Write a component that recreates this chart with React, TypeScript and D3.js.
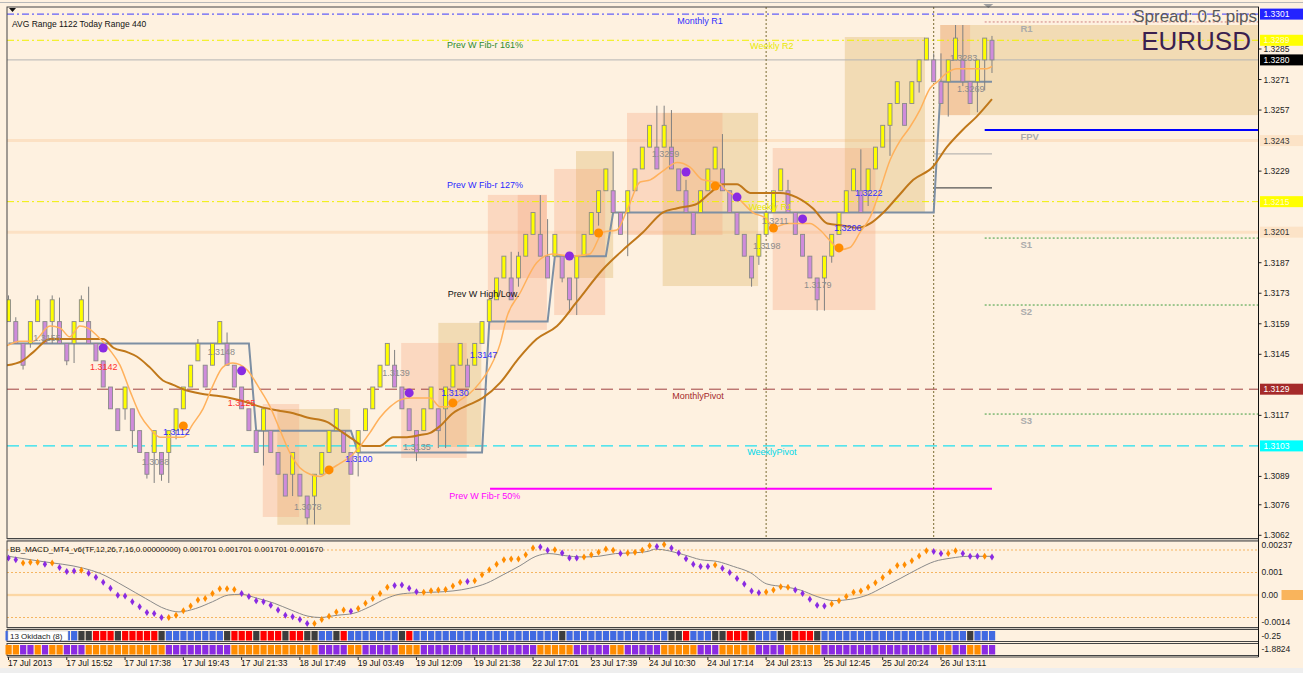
import React from "react";
import * as d3 from "d3";

// ---------- DATA ----------
const opens = [
  1.3160,1.3160,1.3150,1.3150,1.3160,1.3160,1.3160,1.3160,1.3150,1.3150,
  1.3160,1.3160,1.3150,1.3142,1.3130,1.3120,1.3120,1.3120,1.3110,1.3100,
  1.3100,1.3100,1.3100,1.3110,1.3120,1.3130,1.3142,1.3140,1.3140,1.3150,
  1.3150,1.3140,1.3130,1.3120,1.3110,1.3110,1.3110,1.3100,1.3090,1.3090,
  1.3090,1.3080,1.3080,1.3090,1.3100,1.3110,1.3110,1.3100,1.3100,1.3110,
  1.3120,1.3130,1.3140,1.3140,1.3130,1.3120,1.3110,1.3110,1.3120,1.3120,
  1.3120,1.3130,1.3140,1.3140,1.3140,1.3150,1.3160,1.3170,1.3180,1.3180,
  1.3180,1.3190,1.3200,1.3200,1.3190,1.3190,1.3190,1.3180,1.3180,1.3190,
  1.3200,1.3210,1.3220,1.3220,1.3210,1.3210,1.3220,1.3230,1.3240,1.3240,
  1.3240,1.3240,1.3230,1.3220,1.3210,1.3210,1.3220,1.3230,1.3230,1.3220,
  1.3210,1.3200,1.3190,1.3190,1.3200,1.3210,1.3220,1.3220,1.3210,1.3200,
  1.3190,1.3180,1.3180,1.3190,1.3200,1.3210,1.3220,1.3220,1.3220,1.3230,
  1.3240,1.3250,1.3260,1.3260,1.3260,1.3270,1.3280,1.3280,1.3270,1.3270,
  1.3280,1.3280,1.3270,1.3270,1.3280,1.3289,
];
const closes = [
  1.3170,1.3150,1.3140,1.3160,1.3170,1.3150,1.3170,1.3150,1.3142,1.3160,
  1.3170,1.3150,1.3142,1.3130,1.3120,1.3110,1.3130,1.3110,1.3100,1.3090,
  1.3110,1.3090,1.3110,1.3120,1.3130,1.3140,1.3150,1.3130,1.3150,1.3160,
  1.3140,1.3130,1.3120,1.3110,1.3100,1.3120,1.3100,1.3090,1.3080,1.3100,
  1.3080,1.3070,1.3090,1.3100,1.3110,1.3120,1.3100,1.3090,1.3110,1.3120,
  1.3130,1.3140,1.3150,1.3130,1.3120,1.3110,1.3100,1.3120,1.3130,1.3110,
  1.3130,1.3140,1.3150,1.3130,1.3150,1.3160,1.3170,1.3180,1.3190,1.3170,
  1.3190,1.3200,1.3210,1.3190,1.3180,1.3200,1.3180,1.3170,1.3190,1.3200,
  1.3210,1.3220,1.3230,1.3210,1.3200,1.3220,1.3230,1.3240,1.3250,1.3230,
  1.3250,1.3230,1.3220,1.3210,1.3200,1.3220,1.3230,1.3240,1.3220,1.3210,
  1.3200,1.3190,1.3180,1.3200,1.3210,1.3220,1.3230,1.3210,1.3200,1.3190,
  1.3180,1.3170,1.3190,1.3200,1.3210,1.3220,1.3230,1.3210,1.3230,1.3240,
  1.3250,1.3260,1.3270,1.3250,1.3270,1.3280,1.3290,1.3270,1.3260,1.3280,
  1.3290,1.3270,1.3260,1.3280,1.3290,1.3280,
];
const highs = [
  1.3172,1.3162,1.3150,1.3160,1.3172,1.3160,1.3172,1.3171,1.3150,1.3160,
  1.3172,1.3176,1.3150,1.3142,1.3130,1.3120,1.3130,1.3120,1.3110,1.3100,
  1.3110,1.3100,1.3110,1.3120,1.3130,1.3140,1.3152,1.3140,1.3150,1.3160,
  1.3155,1.3140,1.3130,1.3120,1.3110,1.3120,1.3110,1.3100,1.3090,1.3100,
  1.3090,1.3080,1.3090,1.3100,1.3110,1.3120,1.3110,1.3100,1.3110,1.3120,
  1.3130,1.3140,1.3150,1.3147,1.3130,1.3120,1.3110,1.3120,1.3130,1.3120,
  1.3130,1.3140,1.3150,1.3143,1.3150,1.3160,1.3170,1.3180,1.3190,1.3192,
  1.3192,1.3200,1.3210,1.3218,1.3207,1.3200,1.3190,1.3180,1.3190,1.3200,
  1.3210,1.3220,1.3230,1.3238,1.3210,1.3220,1.3230,1.3240,1.3250,1.3259,
  1.3259,1.3257,1.3230,1.3225,1.3210,1.3220,1.3230,1.3240,1.3246,1.3220,
  1.3210,1.3200,1.3190,1.3200,1.3211,1.3220,1.3230,1.3225,1.3210,1.3200,
  1.3190,1.3180,1.3190,1.3200,1.3210,1.3220,1.3230,1.3239,1.3230,1.3240,
  1.3250,1.3260,1.3270,1.3260,1.3270,1.3280,1.3290,1.3283,1.3283,1.3280,
  1.3296,1.3296,1.3270,1.3280,1.3290,1.3291,
];
const lows = [
  1.3160,1.3150,1.3138,1.3148,1.3160,1.3150,1.3150,1.3150,1.3140,1.3141,
  1.3160,1.3150,1.3142,1.3130,1.3120,1.3110,1.3115,1.3102,1.3100,1.3088,
  1.3086,1.3087,1.3086,1.3106,1.3120,1.3130,1.3142,1.3130,1.3140,1.3150,
  1.3140,1.3130,1.3120,1.3110,1.3100,1.3094,1.3100,1.3090,1.3080,1.3080,
  1.3080,1.3067,1.3067,1.3090,1.3100,1.3110,1.3100,1.3090,1.3089,1.3110,
  1.3120,1.3130,1.3140,1.3130,1.3120,1.3110,1.3096,1.3110,1.3120,1.3102,
  1.3102,1.3130,1.3140,1.3130,1.3140,1.3150,1.3160,1.3170,1.3180,1.3170,
  1.3176,1.3190,1.3200,1.3190,1.3180,1.3190,1.3178,1.3164,1.3163,1.3190,
  1.3200,1.3204,1.3220,1.3210,1.3200,1.3190,1.3220,1.3230,1.3240,1.3230,
  1.3240,1.3230,1.3220,1.3210,1.3200,1.3210,1.3220,1.3230,1.3220,1.3210,
  1.3200,1.3190,1.3176,1.3186,1.3200,1.3210,1.3220,1.3210,1.3200,1.3190,
  1.3180,1.3165,1.3165,1.3187,1.3200,1.3210,1.3220,1.3210,1.3213,1.3230,
  1.3240,1.3236,1.3260,1.3250,1.3260,1.3265,1.3280,1.3270,1.3260,1.3254,
  1.3280,1.3268,1.3260,1.3256,1.3266,1.3274,
];

// moving averages: [bar, price]
const maFast: [number, number][] = [
  [-0.2,1.3149],[1.6,1.3151],[3.4,1.3151],[5.7,1.3158],[7.1,1.3157],[8.4,1.3153],[9.8,1.3158],[10.9,1.3157],
  [12.6,1.3152],[13.9,1.3147],[15.3,1.3140],[16.7,1.3128],[18.1,1.3117],[19.4,1.3111],[20.8,1.3107],[22.2,1.3107],
  [24,1.3107],[25.3,1.3113],[26.7,1.3120],[28.1,1.3131],[29.4,1.3139],[30.8,1.3141],[32.7,1.3138],[34.5,1.3129],
  [35.9,1.3121],[37.3,1.3110],[38.6,1.3100],[40,1.3093],[41.4,1.3090],[42.8,1.3089],[44.1,1.3092],[45.5,1.3095],
  [46.9,1.3098],[48.3,1.3103],[49.6,1.3109],[51,1.3116],[52.4,1.3121],[53.7,1.3124],[55.1,1.3125],[56.5,1.3125],
  [57.9,1.3125],[59.2,1.3121],[60.6,1.3121],[62,1.3124],[63.3,1.3127],[64.7,1.3132],[66.1,1.3139],[67.5,1.3150],
  [68.4,1.3162],[70.2,1.3173],[72.5,1.3187],[74.7,1.3191],[77.1,1.3190],[79.8,1.3191],[81.6,1.3201],[83.5,1.3202],
  [84.9,1.3211],[86.7,1.3224],[88.1,1.3225],[89.8,1.3229],[91.8,1.3233],[93.5,1.3231],[95.3,1.3225],[97.3,1.3224],
  [98.6,1.3220],[100,1.3217],[102.2,1.3210],[104.1,1.3207],[104.9,1.3203],[106.9,1.3205],[108.6,1.3205],[110,1.3205],
  [111.4,1.3202],[112.8,1.3197],[114.1,1.3193],[115.5,1.3194],[116.9,1.3201],[118.3,1.3208],[119.6,1.3220],[121,1.3234],
  [122.4,1.3243],[123.7,1.3249],[125.1,1.3257],[126.5,1.3267],[127.5,1.3270],[128.8,1.3274],[130.2,1.3276],[131.6,1.3276],
  [132.9,1.3276],[134.3,1.3276],[135,1.3277],
];
const maSlow: [number, number][] = [
  [-0.2,1.3140],[1.9,1.3142],[3.4,1.3146],[5.7,1.3152],[8,1.3152],[11.6,1.3152],[13,1.3152],[14.4,1.3148],
  [16.3,1.3146],[17.6,1.3144],[19.4,1.3139],[21.2,1.3133],[22.6,1.3131],[24,1.3129],[26.3,1.3127],[28.6,1.3126],
  [30.4,1.3125],[32.7,1.3123],[34.5,1.3121],[37.3,1.3119],[39.1,1.3118],[41,1.3116],[43.7,1.3114],[45.5,1.3110],
  [47.3,1.3106],[48.7,1.3103],[51,1.3103],[52.8,1.3107],[54.7,1.3107],[56.5,1.3108],[57.9,1.3109],[59.2,1.3112],
  [61,1.3118],[63.3,1.3122],[65.1,1.3125],[67.5,1.3132],[70,1.3143],[72.5,1.3152],[75.3,1.3158],[78,1.3169],
  [81.6,1.3184],[84.4,1.3193],[87.1,1.3201],[89.8,1.3210],[91.8,1.3212],[94.5,1.3214],[96.3,1.3219],[98.1,1.3223],
  [100,1.3223],[101.8,1.3219],[103.6,1.3219],[105.9,1.3219],[108.2,1.3217],[110.4,1.3212],[112.4,1.3205],[114.6,1.3204],
  [116.5,1.3203],[118.3,1.3205],[120.1,1.3210],[122,1.3217],[124.2,1.3225],[126.9,1.3231],[128.8,1.3240],[131,1.3248],
  [132.9,1.3254],[135,1.3262],
];

// previous-week high/low step line: [fromBar, toBar, price]
const prevWeekSteps: [number, number, number][] = [
  [0,33,1.3150],[34,47,1.3110],[48,65,1.3100],[66,74,1.3160],[75,82,1.3190],[83,127,1.3210],[128,135,1.3270],
];

// zone boxes: [bar0, bar1, priceTop, priceBottom, kind]
const zoneBoxes: [number, number, number, number, string][] = [
  [36.9,46.9,1.31199,1.30668,"tan"],[34.9,39.9,1.31222,1.30704,"peach"],
  [59,64.9,1.31594,1.31025,"tan"],[53.9,62.9,1.31502,1.30975,"peach"],
  [65.8,73.9,1.32181,1.31562,"peach"],[69.9,73.9,1.32181,1.31800,"peach"],
  [77.9,83,1.32382,1.31800,"tan"],[74.9,81.9,1.32300,1.31630,"peach"],
  [89.8,102.9,1.32557,1.31763,"tan"],[84.9,98,1.32557,1.31997,"peach"],
  [114.8,125.8,1.32905,1.32098,"tan"],[104.9,119,1.32396,1.31653,"peach"],
  [127.9,171.5,1.32960,1.32547,"tan"],[127.9,132,1.32960,1.32547,"peach"],
];

// signal dots: [bar, price, kind]
const signalDots: [number, number, string][] = [
  [13,1.31479,"p"],[24,1.31121,"o"],[32,1.31374,"p"],[44,1.30920,"o"],[55,1.31273,"p"],[61,1.31227,"o"],
  [77,1.31901,"p"],[81,1.32006,"o"],[93,1.32286,"p"],[97,1.32222,"o"],[100,1.32171,"p"],[105,1.32029,"o"],
  [109,1.32071,"p"],[114,1.31938,"o"],
];

// price labels: [text, bar, price, kind]
const priceNotes: [string, number, number, string][] = [
  ["1.3155",3.4,1.31525,"g"],["1.3142",11.2,1.31392,"r"],["1.3112",21.2,1.31094,"b"],["1.3088",18.3,1.30956,"g"],
  ["1.3148",27.3,1.31461,"g"],["1.3125",30.1,1.31227,"r"],["1.3078",39.2,1.30750,"g"],["1.3100",46.2,1.30970,"b"],
  ["1.3139",51.3,1.31364,"g"],["1.3135",54.2,1.31025,"g"],["1.3130",59.4,1.31273,"b"],["1.3147",63.3,1.31447,"b"],
  ["1.3259",88.3,1.32369,"g"],["1.3211",103.4,1.32060,"g"],["1.3198",102.2,1.31947,"g"],["1.3179",109.2,1.31768,"g"],
  ["1.3206",113.3,1.32029,"b"],["1.3222",116.2,1.32190,"b"],["1.3283",129.2,1.32809,"g"],["1.3269",130.2,1.32667,"g"],
];

const priceTicks = [1.3285,1.3271,1.3257,1.3243,1.3229,1.3215,1.3201,1.3187,1.3173,1.3159,1.3145,1.3117,1.3103,1.3089,1.3076,1.3062];

// MACD (units of 0.0001)
const macdMain = [
  16.4,15.7,14.2,14.6,14.6,13.7,14.2,12.2,10.4,10.7,
  11.0,9.7,7.9,5.7,3.0,-0.1,-0.4,-3.0,-5.2,-7.8,
  -8.2,-10.0,-10.0,-9.0,-7.0,-4.9,-2.2,-1.5,0.7,2.8,
  2.8,2.5,0.7,-0.7,-2.5,-3.0,-4.6,-6.7,-9.0,-9.7,
  -10.9,-12.7,-12.7,-10.9,-9.4,-7.5,-6.7,-7.2,-6.0,-3.7,
  -1.5,0.7,3.4,4.2,4.5,3.0,1.5,1.2,1.9,2.2,
  2.5,4.0,5.7,6.0,6.3,9.0,11.2,13.7,15.7,16.0,
  16.0,17.9,20.9,21.3,19.9,20.1,18.7,16.4,16.4,16.9,
  17.9,19.0,20.4,19.9,18.4,18.7,19.0,19.9,21.9,21.6,
  22.4,20.9,18.7,16.1,13.7,12.7,12.7,13.3,11.9,10.0,
  7.3,4.9,1.8,1.0,1.3,2.2,3.7,3.4,2.2,0.7,
  -1.9,-4.5,-4.9,-4.0,-2.5,-0.7,1.2,1.8,3.4,5.5,
  7.8,10.3,13.1,13.4,15.2,17.3,19.7,19.3,18.4,18.4,
  19.7,18.4,17.2,17.2,17.2,16.9,
];
const macdColors = [
  "ppooopoppp","oppppppppp","ppoooooooo","oopppppppp","ppooooopoo","oooppppooo","ooopoooooo",
  "oooppopppo","oooopoooop","oppppppopp","ppppoooopp","pppooooooo","oooooooppo","opppop",
].join("");
const macdSignal: [number, number][] = [
  [0,17.2],[4.6,14.9],[10.3,11.9],[12.5,9.7],[16,3.7],[18.8,-1.5],[21.7,-6.4],[23.4,-7.5],[25.7,-6.0],[28,-3.0],
  [30.2,0],[31.9,0.3],[34.2,-1.5],[36.5,-3.7],[38.8,-6.7],[41.1,-9.4],[42.8,-10.0],[45.1,-9.0],[47.3,-8.2],[49.6,-5.2],
  [51.9,-1.5],[53.6,0.3],[55.9,1.0],[58.8,1.3],[61,1.8],[63.3,3.0],[65.6,5.2],[67.9,9.0],[70.2,13.0],[72.4,17.2],
  [74.2,18.4],[76.4,17.5],[78.7,16.9],[81,17.2],[83.3,18.4],[85.6,18.7],[87.8,19.4],[88.8,20.4],[92.7,17.9],[95,15.7],
  [97.3,14.9],[99.5,12.7],[101.8,10.0],[104.1,4.9],[106.4,3.7],[108.7,2.2],[111,-0.7],[113.3,-2.5],[115.6,-1.9],[117.9,0],
  [120.2,3.7],[122.5,7.5],[124.8,11.5],[127.1,14.9],[129.4,16.4],[131.7,17.2],[134,17.2],[135,17.2],
];

const okidachRuns: [string, number][] = [
  ["B",10],["G",2],["R",3],["G",1],["R",5],["G",1],["B",8],["G",1],["R",3],["G",1],["R",3],["G",1],["R",2],["G",2],
  ["B",2],["G",1],["R",1],["B",7],["G",1],["R",1],["B",20],["G",1],["B",14],["G",2],["R",1],["B",3],["G",2],["R",3],
  ["G",1],["B",3],["G",2],["R",3],["G",1],["B",20],["G",1],["B",3],
];
const trendRuns: [string, number][] = [
  ["O",2],["P",2],["O",1],["P",1],["O",2],["P",3],["O",11],["P",9],["O",12],["P",4],["O",2],["P",5],["O",3],["P",16],
  ["O",5],["P",5],["O",2],["P",5],["O",5],["P",3],["O",5],["P",4],["O",5],["P",16],["O",2],["P",2],["O",2],["P",2],
];

const dateLabels = [
  "17 Jul 2013","17 Jul 15:52","17 Jul 17:38","17 Jul 19:43","17 Jul 21:33","18 Jul 17:49","19 Jul 03:49",
  "19 Jul 12:09","19 Jul 21:38","22 Jul 17:01","23 Jul 17:39","24 Jul 10:30","24 Jul 17:14","24 Jul 23:13",
  "25 Jul 12:45","25 Jul 20:24","26 Jul 13:11",
];

// key levels
const monthlyR1 = 1.3301, weeklyR2 = 1.3289, currentPrice = 1.3280, weeklyR1 = 1.3215;
const monthlyPivot = 1.3129, weeklyPivot = 1.3103, fib127 = 1.3243, fib100 = 1.3201, fib50 = 1.30833;
const dayR1 = 1.32974, dayFPV = 1.32479, dayS1 = 1.31983, dayS2 = 1.31676, dayS3 = 1.31176;
const shortLevelA = 1.32369, shortLevelB = 1.32213;

// ---------- helpers ----------
const expandRuns = (runs: [string, number][]) => runs.flatMap(([c, n]) => Array(n).fill(c));

const FONT = "'Liberation Sans', Arial, sans-serif";
const BG = "#FEF1E0";

export default function App() {
  const nBars = opens.length;
  const x = d3.scaleLinear().domain([0, nBars - 1]).range([8.5, 8.5 + 7.285 * (nBars - 1)]);
  const y = d3.scaleLinear().domain([1.3285, 1.3062]).range([49, 535.3]);
  const ym = d3.scaleLinear().domain([0, 10]).range([595, 572.5]);

  const L = 7, R = 1258.5, T = 7, MB = 538.5;
  const MACD_T = 541, MACD_B = 627.5;

  const lineP = d3.line<[number, number]>().x(d => x(d[0])).y(d => y(d[1])).curve(d3.curveMonotoneX);
  const lineM = d3.line<[number, number]>().x(d => x(d[0])).y(d => ym(d[1])).curve(d3.curveMonotoneX);

  const stepPts: [number, number][] = prevWeekSteps.flatMap(([a, b, v]) => [[a, v], [b, v]] as [number, number][]);
  const stepPath = d3.line<[number, number]>().x(d => x(d[0])).y(d => y(d[1]))(stepPts) || "";

  const oki = expandRuns(okidachRuns);
  const trend = expandRuns(trendRuns);
  const okiColor: Record<string, string> = { B: "#4169E1", G: "#3d3d3d", R: "#FF0000" };
  const trendColor: Record<string, string> = { O: "#FF8C00", P: "#8A2BE2" };
  const noteColor: Record<string, string> = { g: "#8c8c8c", r: "#ff3030", b: "#3030ff" };

  const hLine = (p: number, stroke: string, dash: string | undefined, sw = 1, x0 = L, x1 = R) => (
    <line x1={x0} x2={x1} y1={y(p)} y2={y(p)} stroke={stroke} strokeWidth={sw} strokeDasharray={dash} />
  );

  const axisBoxes: { v: number; bg: string; fg: string }[] = [
    { v: fib127, bg: "#FCE3C7", fg: "#333" },
    { v: fib100, bg: "#FCE3C7", fg: "#333" },
    { v: monthlyR1, bg: "#2323ff", fg: "#ffffff" },
    { v: weeklyR2, bg: "#ffff00", fg: "#fffbd0" },
    { v: currentPrice, bg: "#000000", fg: "#ffffff" },
    { v: weeklyR1, bg: "#ffff00", fg: "#fffbd0" },
    { v: monthlyPivot, bg: "#A52A2A", fg: "#ffffff" },
    { v: weeklyPivot, bg: "#00FFFF", fg: "#ffffff" },
  ];
  const freeTicks = priceTicks.filter(v => !axisBoxes.some(b => Math.abs(y(b.v) - y(v)) < 8));

  return (
    <svg width={1303} height={673} style={{ display: "block", position: "absolute", left: 0, top: 0, background: BG }} fontFamily={FONT}>
      <defs>
        <clipPath id="mainClip"><rect x={L} y={T} width={R - L} height={MB - T} /></clipPath>
        <clipPath id="macdClip"><rect x={L} y={MACD_T} width={R - L} height={MACD_B - MACD_T} /></clipPath>
      </defs>
      <rect x={0} y={0} width={1303} height={673} fill={BG} />
      <rect x={0} y={668} width={1303} height={5} fill="#eeeeee" />
      <line x1={0} x2={1303} y1={2.5} y2={2.5} stroke="#b8b8b8" />

      {/* ---------- MAIN PANEL ---------- */}
      <g clipPath="url(#mainClip)">
        {hLine(fib127, "#FCE1C4", undefined, 3)}
        {hLine(fib100, "#FCE1C4", undefined, 3)}

        {zoneBoxes.map(([b0, b1, p0, p1, k], i) => (
          <rect key={"z" + i} x={x(b0)} y={y(p0)} width={x(b1) - x(b0)} height={y(p1) - y(p0)}
            fill={k === "tan" ? "rgb(215,170,80)" : "rgb(245,160,120)"} fillOpacity={0.3} />
        ))}

        {hLine(monthlyR1, "#3b3bff", "7,3,2,3", 1)}
        {hLine(weeklyR2, "#f0f000", "7,3,2,3", 1)}
        {hLine(currentPrice, "#b4b4b4", undefined, 1)}
        {hLine(weeklyR1, "#f0f000", "7,3,2,3", 1)}
        {hLine(monthlyPivot, "#A04040", "12,6", 1)}
        {hLine(weeklyPivot, "#20E0F0", "12,6", 1.4)}
        {hLine(fib50, "#FF00FF", undefined, 2, x(66.1), x(135))}
        {hLine(dayR1, "#d08080", "2,2", 1, x(134), R)}
        {hLine(dayFPV, "#0000ff", undefined, 2, x(134), R)}
        {hLine(dayS1, "#3c9c3c", "2,2", 1, x(134), R)}
        {hLine(dayS2, "#3c9c3c", "2,2", 1, x(134), R)}
        {hLine(dayS3, "#3c9c3c", "2,2", 1, x(134), R)}
        {hLine(shortLevelA, "#a8a8a8", undefined, 1, x(127), x(135))}
        {hLine(shortLevelB, "#555555", undefined, 1.2, x(127), x(135))}

        {[104, 127].map(b => (
          <line key={"v" + b} x1={x(b)} x2={x(b)} y1={T} y2={MB} stroke="#7a6c32" strokeDasharray="2,2" />
        ))}

        <path d={stepPath} fill="none" stroke="#7d8fa3" strokeWidth={2} />

        {opens.map((o, i) => {
          const c = closes[i];
          const up = c >= o;
          const top = y(Math.max(o, c)), bot = y(Math.min(o, c));
          return (
            <g key={"c" + i}>
              <line x1={x(i)} x2={x(i)} y1={y(highs[i])} y2={y(lows[i])} stroke="#808080" strokeWidth={1} />
              <rect x={x(i) - 2} y={top} width={4} height={Math.max(1, bot - top)}
                fill={up ? "#FFFF00" : "#CF8BDB"} stroke="#8a8a8a" strokeWidth={0.9} />
            </g>
          );
        })}

        <path d={lineP(maSlow) || ""} fill="none" stroke="#C0781A" strokeWidth={2} />
        <path d={lineP(maFast) || ""} fill="none" stroke="#FFB15C" strokeWidth={1.5} />

        {signalDots.map(([b, p, k], i) => (
          <circle key={"s" + i} cx={x(b)} cy={y(p)} r={4.5} fill={k === "o" ? "#FF8C00" : "#8A2BE2"} />
        ))}

        {priceNotes.map(([t, b, p, k], i) => (
          <text key={"n" + i} x={x(b)} y={y(p)} dy="0.35em" fontSize={9} fill={noteColor[k]}>{t}</text>
        ))}

        <text x={x(91.8)} y={y(monthlyR1) + 10} fontSize={9} fill="#3030ff">Monthly R1</text>
        <text x={x(101.8)} y={y(weeklyR2) + 9} fontSize={9} fill="#e8e800">Weekly R2</text>
        <text x={x(101.6)} y={y(weeklyR1) + 8} fontSize={9} fill="#e8e800">Weekly R1</text>
        <text x={x(91.1)} y={y(monthlyPivot) + 10} fontSize={9} fill="#a52a2a">MonthlyPivot</text>
        <text x={x(101.4)} y={y(weeklyPivot) + 9} fontSize={9} fill="#00d8e8">WeeklyPivot</text>
        <text x={x(60.2)} y={y(1.3287)} dy="0.35em" fontSize={9} fill="#2e8b2e">Prev W Fib-r 161%</text>
        <text x={x(60.2)} y={y(1.32225)} dy="0.35em" fontSize={9} fill="#2a2aff">Prev W Fib-r 127%</text>
        <text x={x(60.3)} y={y(1.31725)} dy="0.35em" fontSize={9} fill="#111">Prev W High/Low.</text>
        <text x={x(60.5)} y={y(1.30803)} dy="0.35em" fontSize={9} fill="#ff00ff">Prev W Fib-r 50%</text>
        {[["R1", dayR1], ["FPV", dayFPV], ["S1", dayS1], ["S2", dayS2], ["S3", dayS3]].map(([t, p]) => (
          <text key={"d" + t} x={x(138.9)} y={y(p as number) + 10} fontSize={9.5} fontWeight="bold" fill="#ababab">{t as string}</text>
        ))}

        <text x={12} y={27} fontSize={8.5} fill="#111">AVG Range 1122   Today Range 440</text>
        <text x={1257} y={22} fontSize={17} fill="#5a5a5a" textAnchor="end">Spread: 0.5 pips</text>
        <text x={1251} y={50} fontSize={26} fill="#3a1f4f" textAnchor="end">EURUSD</text>
        <path d="M9,8 L16,8 L12.5,12 Z" fill="#111" />
      </g>
      <path d={`M${x(134.5) - 5},4 L${x(134.5) + 5},4 L${x(134.5)},8 Z`} fill="#a0a0a0" />

      <rect x={L} y={T} width={R - L} height={MB - T} fill="none" stroke="#444" strokeWidth={1} />
      <line x1={L} x2={R} y1={MB + 1.5} y2={MB + 1.5} stroke="#999" />

      {/* right price axis */}
      {freeTicks.map(v => (
        <g key={"t" + v}>
          <line x1={R} x2={R + 3} y1={y(v)} y2={y(v)} stroke="#222" />
          <text x={R + 5} y={y(v)} dy="0.35em" fontSize={8.5} fill="#222">{v.toFixed(4)}</text>
        </g>
      ))}
      {axisBoxes.map(b => (
        <g key={"ab" + b.v}>
          <rect x={R + 1.5} y={y(b.v) - 5.5} width={1303 - R} height={11} fill={b.bg} />
          <text x={R + 5} y={y(b.v)} dy="0.35em" fontSize={8.5} fill={b.fg}>{b.v.toFixed(4)}</text>
        </g>
      ))}

      {/* ---------- MACD PANEL ---------- */}
      <g clipPath="url(#macdClip)">
        <rect x={L} y={ym(0.55)} width={R - L} height={ym(-0.55) - ym(0.55)} fill="#FDE3BD" />
        <rect x={L} y={ym(0.3)} width={R - L} height={ym(-0.3) - ym(0.3)} fill="#FCD7A6" />
        <rect x={L} y={ym(0.1)} width={R - L} height={ym(-0.1) - ym(0.1)} fill="#F9C887" />
        {[20, 10, -10].map(v => (
          <line key={"md" + v} x1={L} x2={R} y1={ym(v)} y2={ym(v)} stroke="#F5B560" strokeDasharray="2,2" />
        ))}
        <path d={lineM(macdSignal) || ""} fill="none" stroke="#8a8a8a" strokeWidth={1} />
        {macdMain.map((v, i) => {
          const cx = x(i), cy = ym(v);
          return (
            <path key={"m" + i} d={`M${cx},${cy - 3.5} L${cx + 2.2},${cy} L${cx},${cy + 3.5} L${cx - 2.2},${cy} Z`}
              fill={macdColors[i] === "o" ? "#FF8C00" : "#8A2BE2"} />
          );
        })}
        <text x={10} y={552} fontSize={8} fill="#111">BB_MACD_MT4_v6(TF,12,26,7,16,0.00000000) 0.001701 0.001701 0.001701 0.001670</text>
      </g>
      <rect x={L} y={MACD_T} width={R - L} height={MACD_B - MACD_T} fill="none" stroke="#444" />
      <line x1={L} x2={R} y1={MACD_B + 1.5} y2={MACD_B + 1.5} stroke="#999" />
      <text x={R + 3} y={ym(23.7) + 6} fontSize={8.5} fill="#222">0.00237</text>
      <text x={R + 3} y={ym(10)} dy="0.35em" fontSize={8.5} fill="#222">0.001</text>
      <rect x={R + 23} y={ym(0) - 5} width={1303 - R - 23} height={10} fill="#F9B45C" />
      <text x={R + 3} y={ym(0)} dy="0.35em" fontSize={8.5} fill="#222">0.00</text>
      <text x={R + 3} y={ym(-12)} dy="0.35em" fontSize={8.5} fill="#222">-0.0014</text>

      {/* ---------- OKIDACH PANEL ---------- */}
      <rect x={L} y={629.5} width={R - L} height={12} fill={BG} stroke="#444" />
      {oki.map((c, i) => (
        <rect key={"o" + i} x={x(i) - 3} y={631} width={6.2} height={9.5} fill={okiColor[c]} />
      ))}
      <rect x={8} y={631} width={60} height={9.5} fill="#ffffff" stroke="#bbb" strokeWidth={0.5} />
      <text x={10} y={638.8} fontSize={8} fill="#222">13 Okidach (8)</text>
      <text x={R + 3} y={636} dy="0.35em" fontSize={8.5} fill="#222">-0.25</text>

      {/* ---------- TREND PANEL ---------- */}
      <rect x={L} y={643.5} width={R - L} height={12} fill={BG} stroke="#444" />
      {trend.map((c, i) => (
        <rect key={"r" + i} x={x(i) - 3} y={645} width={6.2} height={9.5} fill={trendColor[c]} />
      ))}
      <text x={R + 3} y={649.5} dy="0.35em" fontSize={8.5} fill="#222">-1.8824</text>

      <line x1={R} x2={R} y1={T} y2={657} stroke="#111" />

      {/* ---------- DATE AXIS ---------- */}
      {dateLabels.map((t, k) => (
        <g key={"dt" + k}>
          <line x1={x(k * 8)} x2={x(k * 8)} y1={657} y2={660} stroke="#222" />
          <text x={x(k * 8) - 0.5} y={666} fontSize={8.5} fill="#111">{t}</text>
        </g>
      ))}
      <line x1={L} x2={R} y1={657} y2={657} stroke="#444" />
    </svg>
  );
}
